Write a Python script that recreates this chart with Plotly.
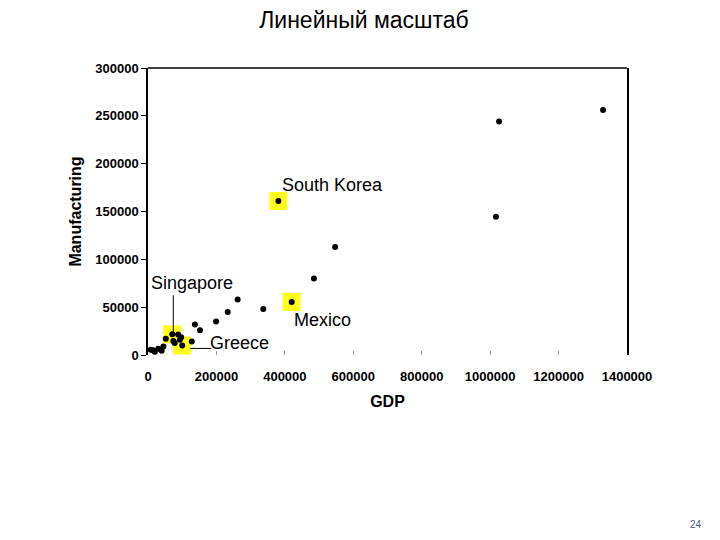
import plotly.graph_objects as go

# Data (GDP vs Manufacturing)
gdp = [1330000, 1026000, 381000, 1017000, 547000, 485000, 420000, 262000, 337000,
       233000, 199000, 137000, 152000, 128000, 88000, 71000, 97000, 52000, 74000,
       93000, 78000, 100000, 45000, 30000, 15000, 40000, 20000, 8000]
manufacturing = [256000, 244000, 161000, 144500, 113000, 80000, 55500, 58000, 48000,
                 45000, 35000, 32000, 26000, 14000, 21500, 21600, 18500, 17000, 14600,
                 16000, 12500, 10000, 9000, 6500, 5000, 4500, 3500, 5500]

highlight_names = ["South Korea", "Mexico", "Singapore", "Greece"]
highlight_gdp = [381000, 420000, 71000, 100000]
highlight_man = [161000, 55500, 21600, 10000]

title_text = "Линейный масштаб"
x_title = "GDP"
y_title = "Manufacturing"
x_ticks = [0, 200000, 400000, 600000, 800000, 1000000, 1200000, 1400000]
y_ticks = [0, 50000, 100000, 150000, 200000, 250000, 300000]
page_number = "24"

FONT = "Liberation Sans, Arial, sans-serif"

fig = go.Figure()

# yellow highlight squares
fig.add_trace(go.Scatter(
    x=highlight_gdp, y=highlight_man, mode="markers",
    marker=dict(symbol="square", size=18, color="#ffff1a", line=dict(width=0)),
    hoverinfo="skip", showlegend=False, cliponaxis=False))

# data points
fig.add_trace(go.Scatter(
    x=gdp, y=manufacturing, mode="markers",
    marker=dict(symbol="circle", size=6, color="black"),
    showlegend=False, cliponaxis=False))

# label annotations (anchored on their points, pixel offsets)
label_offsets = {
    "South Korea": (54, 16),
    "Mexico": (31, -18),
    "Singapore": (20, 51),
    "Greece": (57, 2),
}
for name, gx, gy in zip(highlight_names, highlight_gdp, highlight_man):
    dx, dy = label_offsets[name]
    fig.add_annotation(x=gx, y=gy, text=name, showarrow=False,
                       xshift=dx, yshift=dy,
                       font=dict(family=FONT, size=18, color="black"))

# leader lines (pixel-sized, anchored to data points)
sg = highlight_names.index("Singapore")
gr = highlight_names.index("Greece")
fig.add_shape(type="line", xref="x", yref="y",
              xsizemode="pixel", ysizemode="pixel",
              xanchor=highlight_gdp[sg], yanchor=highlight_man[sg],
              x0=1, x1=1, y0=2, y1=39,
              line=dict(color="black", width=1))
fig.add_shape(type="line", xref="x", yref="y",
              xsizemode="pixel", ysizemode="pixel",
              xanchor=highlight_gdp[gr], yanchor=highlight_man[gr],
              x0=8, x1=29, y0=-3, y1=-3,
              line=dict(color="black", width=1))

# top border of plot area
fig.add_shape(type="line", xref="paper", yref="paper", x0=0, x1=1, y0=1, y1=1,
              line=dict(color="black", width=1.5))

fig.add_annotation(xref="paper", yref="paper", x=1.16, y=-0.617,
                   text=page_number, showarrow=False,
                   font=dict(family=FONT, size=10, color="#4a5a8a"))

fig.update_layout(
    width=712, height=532,
    margin=dict(l=140, r=93, t=60, b=185),
    paper_bgcolor="white", plot_bgcolor="white",
    title=dict(text=title_text, x=0.5, xref="container", xanchor="center",
               y=0.977, yref="container", yanchor="middle",
               font=dict(family=FONT, size=23, color="black")),
    xaxis=dict(range=[0, 1400000], tickvals=x_ticks,
               ticktext=[str(v) for v in x_ticks],
               showgrid=False, zeroline=False, showline=False,
               ticks="inside", ticklen=4, tickcolor="#999999",
               ticklabelstandoff=12,
               tickfont=dict(family=FONT, size=13, color="black", weight="bold"),
               title=dict(text=x_title, standoff=12,
                          font=dict(family=FONT, size=16, color="black", weight="bold"))),
    yaxis=dict(range=[0, 300000], tickvals=y_ticks,
               ticktext=[str(v) for v in y_ticks],
               showgrid=False, zeroline=False, showline=True, mirror=True,
               linecolor="black", linewidth=1.5,
               ticks="outside", ticklen=5, tickcolor="black",
               tickfont=dict(family=FONT, size=13, color="black", weight="bold"),
               title=dict(text=y_title, standoff=10,
                          font=dict(family=FONT, size=16, color="black", weight="bold"))),
)

fig.write_html("out.html")
